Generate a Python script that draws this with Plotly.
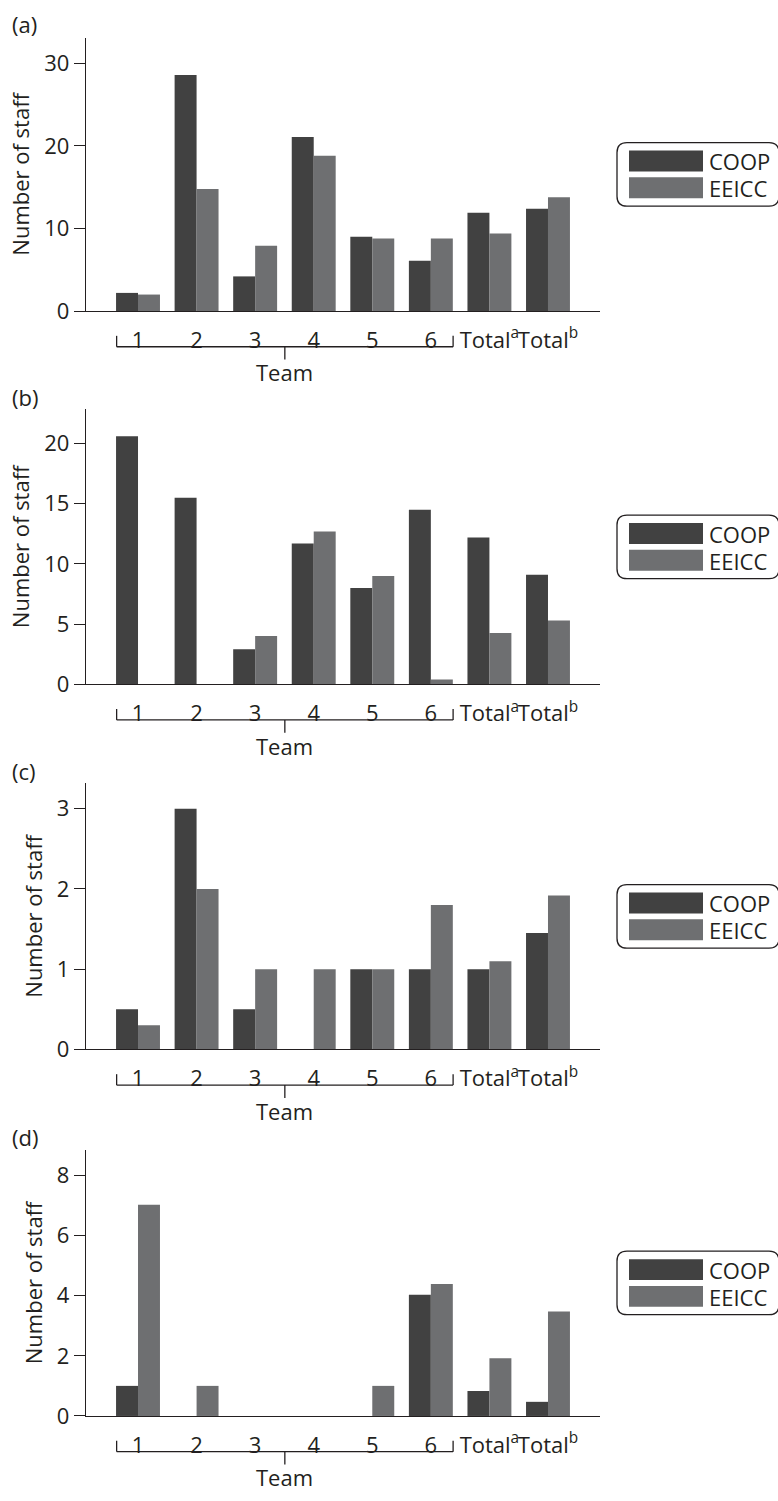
import plotly.graph_objects as go

# ---------------- data ----------------
categories = ["1", "2", "3", "4", "5", "6", "Total<sup>a</sup>", "Total<sup>b</sup>"]
series_names = ["COOP", "EEICC"]

coop_a = [2.2, 28.6, 4.2, 21.1, 9.0, 6.1, 11.9, 12.4]
eeicc_a = [2.0, 14.8, 7.9, 18.8, 8.8, 8.8, 9.4, 13.8]

coop_b = [20.6, 15.5, 2.9, 11.7, 8.0, 14.5, 12.2, 9.1]
eeicc_b = [0, 0, 4.0, 12.7, 9.0, 0.4, 4.25, 5.3]

coop_c = [0.5, 3.0, 0.5, 0, 1.0, 1.0, 1.0, 1.45]
eeicc_c = [0.3, 2.0, 1.0, 1.0, 1.0, 1.8, 1.1, 1.92]

coop_d = [1.0, 0, 0, 0, 0, 4.03, 0.83, 0.47]
eeicc_d = [7.02, 1.0, 0, 0, 1.0, 4.39, 1.92, 3.47]

panel_labels = ["(a)", "(b)", "(c)", "(d)"]
y_ticks = [[0, 10, 20, 30], [0, 5, 10, 15, 20], [0, 1, 2, 3], [0, 2, 4, 6, 8]]
y_max = [33.12, 22.83, 3.317, 8.845]
x_title = "Team"
y_title = "Number of staff"

# ---------------- style / layout ----------------
W, H = 778, 1501
FONT = "Open Sans"
TXT = "#231f20"
C_COOP = "#414141"
C_EEICC = "#6e6f71"
FS = 22

plot_left, plot_right = 86, 600
panel_px = [(38, 314), (413.3, 690.7), (790.7, 1059.3), (1160.7, 1429.3)]  # (top, zero) in px
label_y_px = [24, 401, 778, 1148]

def py(px):
    return 1 - px / H

def px_x(px):
    return px / W

fig = go.Figure()
data = [(coop_a, eeicc_a), (coop_b, eeicc_b), (coop_c, eeicc_c), (coop_d, eeicc_d)]
colors = [C_COOP, C_EEICC]

shapes = []
annotations = []

for i, (vals_c, vals_e) in enumerate(data):
    sfx = "" if i == 0 else str(i + 1)
    for name, vals, col in zip(series_names, (vals_c, vals_e), colors):
        fig.add_trace(go.Bar(
            x=categories, y=vals, name=name, marker=dict(color=col, line=dict(width=0)),
            xaxis="x" + sfx, yaxis="y" + sfx, showlegend=False,
        ))
    top, zero = panel_px[i]
    fig.layout["xaxis" + sfx] = dict(
        domain=[px_x(plot_left), px_x(plot_right)], anchor="y" + sfx, type="category",
        range=[-0.888, 7.888], showline=True, linecolor=TXT, linewidth=1.3,
        ticks="outside", ticklen=9, tickcolor="rgba(0,0,0,0)", tickangle=0,
        showgrid=False, zeroline=False,
        tickfont=dict(family=FONT, size=FS, color=TXT), fixedrange=True,
    )
    fig.layout["yaxis" + sfx] = dict(
        domain=[py(zero), py(top)], anchor="x" + sfx, range=[0, y_max[i]],
        tickvals=y_ticks[i], showline=True, linecolor=TXT, linewidth=1.3,
        ticks="outside", ticklen=11, tickwidth=1.3, tickcolor=TXT,
        showgrid=False, zeroline=False,
        tickfont=dict(family=FONT, size=FS, color=TXT),
        title=dict(text=y_title, font=dict(family=FONT, size=FS, color=TXT), standoff=8),
    )

    # bracket under teams 1-6
    xr = "x" + sfx
    yb = py(zero + 36)
    shapes.append(dict(type="line", xref=xr, yref="paper", x0=-0.365, x1=5.38, y0=yb, y1=yb,
                       line=dict(color=TXT, width=1.3)))
    shapes.append(dict(type="line", xref=xr, yref="paper", x0=-0.365, x1=-0.365, y0=yb, y1=py(zero + 25),
                       line=dict(color=TXT, width=1.3)))
    shapes.append(dict(type="line", xref=xr, yref="paper", x0=5.38, x1=5.38, y0=yb, y1=py(zero + 25),
                       line=dict(color=TXT, width=1.3)))
    shapes.append(dict(type="line", xref=xr, yref="paper", x0=2.507, x1=2.507, y0=yb, y1=py(zero + 49),
                       line=dict(color=TXT, width=1.3)))
    annotations.append(dict(text=x_title, xref=xr, yref="paper", x=2.507, y=py(zero + 62),
                            showarrow=False, xanchor="center", yanchor="middle",
                            font=dict(family=FONT, size=FS, color=TXT)))
    # panel label
    annotations.append(dict(text=panel_labels[i], xref="paper", yref="paper", x=px_x(10), y=py(label_y_px[i]),
                            showarrow=False, xanchor="left", yanchor="middle",
                            font=dict(family=FONT, size=FS, color=TXT)))

    # legend box (rounded, clipped at right edge)
    cy = (top + zero) / 2
    bx0, bx1 = 617, 779
    by0, by1 = cy - 32, cy + 32
    r = 10
    path = (f"M {px_x(bx0 + r)},{py(by0)} L {px_x(bx1 - r)},{py(by0)} "
            f"Q {px_x(bx1)},{py(by0)} {px_x(bx1)},{py(by0 + r)} "
            f"L {px_x(bx1)},{py(by1 - r)} Q {px_x(bx1)},{py(by1)} {px_x(bx1 - r)},{py(by1)} "
            f"L {px_x(bx0 + r)},{py(by1)} Q {px_x(bx0)},{py(by1)} {px_x(bx0)},{py(by1 - r)} "
            f"L {px_x(bx0)},{py(by0 + r)} Q {px_x(bx0)},{py(by0)} {px_x(bx0 + r)},{py(by0)} Z")
    shapes.append(dict(type="path", xref="paper", yref="paper", path=path,
                       line=dict(color=TXT, width=1.3), fillcolor="rgba(0,0,0,0)"))
    for k, (name, col) in enumerate(zip(series_names, colors)):
        sy = cy - 13.5 + k * 27
        shapes.append(dict(type="rect", xref="paper", yref="paper",
                           x0=px_x(629), x1=px_x(703), y0=py(sy - 10.5), y1=py(sy + 10.5),
                           fillcolor=col, line=dict(width=0)))
        annotations.append(dict(text=name, xref="paper", yref="paper", x=px_x(707), y=py(sy),
                                showarrow=False, xanchor="left", yanchor="middle", height=25,
                                font=dict(family=FONT, size=FS, color=TXT)))

fig.update_layout(
    width=W, height=H, margin=dict(l=0, r=0, t=0, b=0),
    paper_bgcolor="white", plot_bgcolor="white",
    barmode="group", bargap=0.25, bargroupgap=0,
    showlegend=False, shapes=shapes, annotations=annotations,
    font=dict(family=FONT, size=FS, color=TXT),
)

fig.write_html("out.html")
